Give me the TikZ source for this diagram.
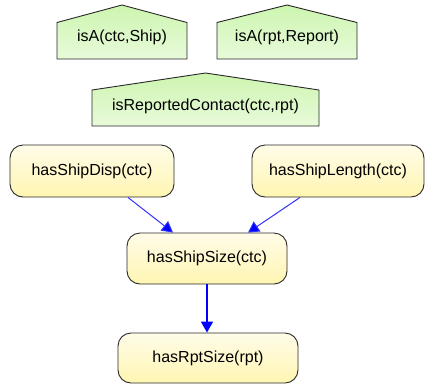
\documentclass[tikz,border=0pt]{standalone}
\usepackage{fontspec}
\setmainfont{Liberation Sans}
\usetikzlibrary{arrows.meta,calc}

\definecolor{edgeblue}{RGB}{50,50,255}
\definecolor{tipblue}{RGB}{0,0,255}
\definecolor{boxline}{RGB}{40,40,40}
\definecolor{greentop}{RGB}{205,245,175}
\definecolor{greenbot}{RGB}{232,250,218}
\definecolor{yellowtop}{RGB}{255,252,232}
\definecolor{yellowbot}{RGB}{255,245,178}

\tikzset{
  evidence/.style={draw=boxline, line width=0.9pt, top color=greentop, bottom color=greenbot},
  label/.style={font=\fontsize{16}{18}\selectfont, inner sep=0pt},
  query/.style={draw=boxline, line width=0.9pt, rounded corners=13pt,
    top color=yellowtop, bottom color=yellowbot,
    font=\fontsize{16}{18}\selectfont, inner sep=0pt, anchor=center},
  link/.style={draw=edgeblue, line width=1pt,
    -{Triangle[length=11pt,width=12pt,fill=tipblue]}}
}

\begin{document}
\begin{tikzpicture}[x=1pt,y=-1pt]
  \useasboundingbox (0,0) rectangle (425,384);

  % house-shaped evidence boxes
  \path[evidence] (57,59) -- (57,22.5) -- (122,5) -- (187,22.5) -- (187,59) -- cycle;
  \node[label] (isaship) at (122,37) {isA(ctc,Ship)};

  \path[evidence] (217,59) -- (217,22.5) -- (287,5) -- (357,22.5) -- (357,59) -- cycle;
  \node[label] (isarpt) at (287,37) {isA(rpt,Report)};

  \path[evidence] (92,126) -- (92,90) -- (205.5,73) -- (319,90) -- (319,126) -- cycle;
  \node[label] (contact) at (205.5,106) {isReportedContact(ctc,rpt)};

  % rounded query boxes
  \node[query, minimum width=164pt, minimum height=52pt] (disp) at (92,171) {hasShipDisp(ctc)};
  \node[query, minimum width=172pt, minimum height=52pt] (len) at (338,171) {hasShipLength(ctc)};
  \node[query, minimum width=160pt, minimum height=51pt] (size) at (207,258.5) {hasShipSize(ctc)};
  \node[query, minimum width=180pt, minimum height=50pt] (rpt) at (208,358) {hasRptSize(rpt)};

  % dependencies
  \draw[link] ($(disp.south)+(36,0)$) -- ($(size.north)+(-34,0)$);
  \draw[link] ($(len.south)+(-38,0)$) -- ($(size.north)+(41,0)$);
  \draw[link, draw=tipblue, line width=1.5pt] (size.south) -- (size.south |- rpt.north);
\end{tikzpicture}
\end{document}
